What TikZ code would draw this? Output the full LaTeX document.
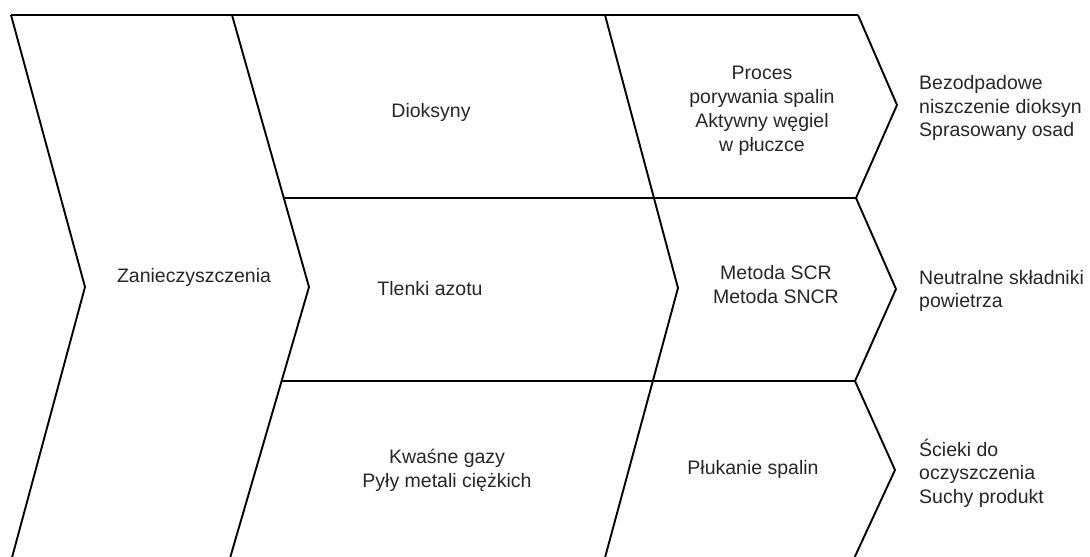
\documentclass[tikz,border=0pt]{standalone}
\usepackage{fontspec}
\setmainfont{Liberation Sans}
\begin{document}
\begin{tikzpicture}[x=1pt,y=-1pt,
  shape line/.style={line width=1.9pt, line join=miter},
  lbl/.style={font=\fontsize{19.5}{24}\selectfont, align=center, inner sep=0pt, text=black!85},
  outlbl/.style={font=\fontsize{19.5}{23.5}\selectfont, align=left, anchor=west, inner sep=0pt, text=black!85}]
\useasboundingbox (0,0) rectangle (1090,557);
\begin{scope}
\clip (0,0) rectangle (1090,557);
% top line
\draw[shape line] (11,15) -- (858,15);
% left chevron outline
\draw[shape line] (11,15) -- (85,287) -- (10,565);
\draw[shape line] (232,15) -- (309,287) -- (228,565);
% middle boundary
\draw[shape line] (605,15) -- (678,288) -- (603,565);
% row separators
\draw[shape line] (283.8,198) -- (856,198);
\draw[shape line] (281.5,381) -- (855,381);
% right arrow heads
\draw[shape line] (858,15) -- (897,105) -- (856,198);
\draw[shape line] (856,198) -- (896,289) -- (855,381);
\draw[shape line] (855,381) -- (895,470) -- (851,565);
% faint bottom edge
\draw[black!25, line width=0.8pt] (230,557) -- (340,557);
\end{scope}
% labels
\node[lbl] (zan) at (194,277) {Zanieczyszczenia};
\node[lbl] (dio) at (431,112) {Dioksyny};
\node[lbl] (tle) at (430,289) {Tlenki azotu};
\node[lbl] (kwa) at (447,470) {Kwaśne gazy\\Pyły metali ciężkich};
\node[lbl] (pro) at (762,111) {Proces\\porywania spalin\\Aktywny węgiel\\w płuczce};
\node[lbl] (met) at (776,285) {Metoda SCR\\Metoda SNCR};
\node[lbl] (plu) at (753,469) {Płukanie spalin};
\node[outlbl] (bez) at (919,108) {Bezodpadowe\\niszczenie dioksyn\\Sprasowany osad};
\node[outlbl] (neu) at (919,291) {Neutralne składniki\\powietrza};
\node[outlbl] (sci) at (919,473) {Ścieki do\\oczyszczenia\\Suchy produkt};
\end{tikzpicture}
\end{document}
